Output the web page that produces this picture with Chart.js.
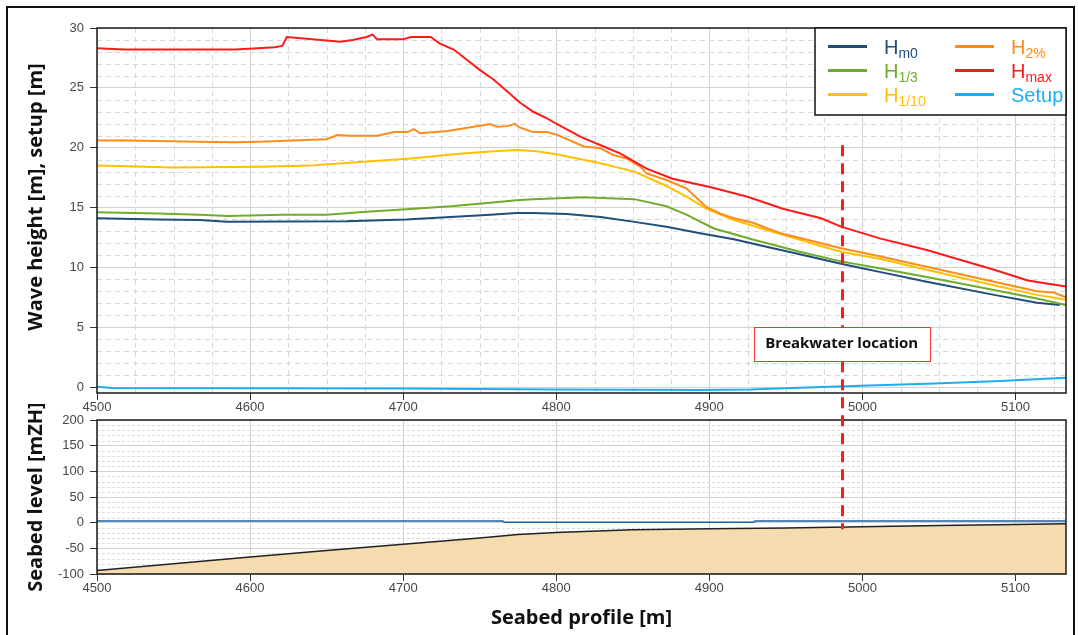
<!DOCTYPE html>
<html lang="en">
<head>
<meta charset="UTF-8">
<title>Wave height and seabed profile</title>
<script src="https://cdn.jsdelivr.net/npm/chart.js@4"></script>
<style>
  body { margin: 0; background: #fff; }
  #wrap { position: relative; width: 1078px; height: 635px; overflow: hidden; background: #fff; }
  #frame { position: absolute; left: 6px; top: 6px; width: 1065px; height: 640px; border: 2px solid #111; }
  #waveChart { position: absolute; left: 0; top: 0; }
  #bedChart { position: absolute; left: 0; top: 404px; }
</style>
</head>
<body>
<div id="wrap">
  <div id="frame"></div>
  <canvas id="waveChart" width="1078" height="416"></canvas>
  <canvas id="bedChart" width="1078" height="231"></canvas>
</div>
<script>
// ---- values ----
const xTicks = [4500, 4600, 4700, 4800, 4900, 5000, 5100];
const waveTicks = [0, 5, 10, 15, 20, 25, 30];
const bedTicks = [-100, -50, 0, 50, 100, 150, 200];

const seriesNames = [['H', 'm0'], ['H', '1/3'], ['H', '1/10'], ['H', '2%'], ['H', 'max'], ['Setup', '']];
const seriesColors = ['#1f4e79', '#6fac2b', '#ffc000', '#ff8c1a', '#ff1a1a', '#1eaef0'];

const hm0X = [4500, 4540, 4567, 4585, 4663, 4702, 4731, 4757, 4774, 4785, 4807, 4829, 4851, 4872, 4894, 4916, 4938, 4959, 4986, 4999, 5012, 5042, 5086, 5114, 5129];
const hm0Y = [14.1, 14.0, 13.95, 13.8, 13.85, 14.0, 14.2, 14.4, 14.55, 14.55, 14.45, 14.2, 13.8, 13.4, 12.85, 12.35, 11.7, 11.1, 10.3, 9.95, 9.6, 8.8, 7.7, 7.05, 6.85];

const h13X = [4500, 4540, 4567, 4585, 4622, 4650, 4676, 4702, 4731, 4757, 4774, 4785, 4818, 4851, 4872, 4885, 4903, 4929, 4959, 4986, 5012, 5042, 5086, 5114, 5133];
const h13Y = [14.6, 14.5, 14.4, 14.3, 14.4, 14.4, 14.65, 14.85, 15.1, 15.4, 15.6, 15.7, 15.85, 15.7, 15.1, 14.4, 13.25, 12.3, 11.3, 10.5, 9.9, 9.2, 8.1, 7.4, 6.85];

const h110X = [4500, 4520, 4550, 4606, 4639, 4672, 4705, 4737, 4759, 4774, 4787, 4800, 4829, 4851, 4872, 4885, 4898, 4916, 4938, 4959, 4986, 5012, 5042, 5086, 5114, 5133];
const h110Y = [18.5, 18.45, 18.35, 18.4, 18.5, 18.8, 19.1, 19.5, 19.7, 19.8, 19.7, 19.45, 18.7, 18.0, 16.8, 15.9, 14.9, 13.95, 13.1, 12.3, 11.3, 10.7, 9.8, 8.5, 7.7, 7.3];

const h2X = [4500, 4520, 4567, 4589, 4606, 4650, 4657, 4665, 4683, 4694, 4703, 4707, 4711, 4729, 4746, 4757, 4761, 4768, 4773, 4776, 4785, 4794, 4801, 4818, 4829, 4837, 4846, 4855, 4859, 4872, 4885, 4898, 4907, 4916, 4929, 4938, 4948, 4964, 4986, 5012, 5042, 5086, 5114, 5125, 5133];
const h2Y = [20.6, 20.6, 20.5, 20.45, 20.5, 20.7, 21.05, 21.0, 21.0, 21.3, 21.3, 21.55, 21.2, 21.4, 21.75, 21.97, 21.75, 21.8, 22.0, 21.7, 21.3, 21.3, 21.05, 20.1, 19.95, 19.4, 19.1, 18.4, 17.85, 17.3, 16.6, 15.05, 14.5, 14.1, 13.7, 13.25, 12.8, 12.3, 11.6, 10.9, 10.05, 8.8, 8.0, 7.9, 7.5];

const hmaxX = [4500, 4518, 4590, 4605, 4616, 4621, 4624, 4650, 4659, 4667, 4676, 4680, 4683, 4700, 4705, 4718, 4724, 4733, 4742, 4750, 4759, 4768, 4776, 4785, 4794, 4800, 4816, 4829, 4842, 4859, 4876, 4901, 4925, 4948, 4973, 4986, 5012, 5042, 5086, 5108, 5133];
const hmaxY = [28.3, 28.2, 28.2, 28.3, 28.4, 28.5, 29.25, 28.95, 28.85, 29.0, 29.25, 29.45, 29.05, 29.05, 29.25, 29.25, 28.7, 28.2, 27.3, 26.5, 25.7, 24.7, 23.8, 23.0, 22.45, 22.0, 20.9, 20.2, 19.5, 18.25, 17.4, 16.7, 15.9, 14.9, 14.1, 13.4, 12.4, 11.45, 9.8, 8.9, 8.4];

const setupX = [4500, 4510, 4600, 4700, 4800, 4894, 4927, 4973, 4999, 5047, 5090, 5133];
const setupY = [0.02, -0.08, -0.1, -0.12, -0.2, -0.25, -0.2, 0.0, 0.1, 0.3, 0.5, 0.78];

const seabedX = [4500, 4550, 4600, 4650, 4700, 4750, 4775, 4800, 4850, 4900, 4950, 5000, 5050, 5100, 5133];
const seabedY = [-93, -80, -67, -54, -42, -30, -23, -19, -14, -12, -10.5, -8, -5.5, -3.5, -2];

const waterX = [4500, 4765, 4766, 4929, 4930, 5133];
const waterY = [3.4, 3.4, 1.0, 1.0, 3.2, 3.2];

const breakwaterAt = 4987;
const waveAxisTitle = 'Wave height [m], setup [m]';

// ---- helpers ----
const pts = (xs, ys) => xs.map((x, i) => ({ x: x, y: ys[i] }));
const fixedTicks = list => scale => { scale.ticks = list.map(v => ({ value: v })); };
const tickFont = { family: "'Liberation Sans', Arial, sans-serif", size: 13 };
const titleFont = { family: "'Open Sans', sans-serif", size: 20, weight: 'bold' };
let dashTopLength = 0;

const minorGrid = {
  id: 'minorGrid',
  beforeDatasetsDraw(chart, args, opts) {
    const { ctx, chartArea: a, scales: { x, y } } = chart;
    ctx.save();
    ctx.strokeStyle = opts.color;
    ctx.lineWidth = 1;
    ctx.setLineDash(opts.dash);
    if (opts.xStep) {
      for (let v = x.min; v <= x.max; v += opts.xStep) {
        if (v % opts.xMajor === 0) continue;
        const px = Math.round(x.getPixelForValue(v)) + 0.5;
        ctx.beginPath(); ctx.moveTo(px, a.top); ctx.lineTo(px, a.bottom); ctx.stroke();
      }
    }
    for (let v = Math.ceil(y.min / opts.yStep) * opts.yStep; v <= y.max; v += opts.yStep) {
      if (v % opts.yMajor === 0) continue;
      const py = Math.round(y.getPixelForValue(v)) + 0.5;
      ctx.beginPath(); ctx.moveTo(a.left, py); ctx.lineTo(a.right, py); ctx.stroke();
    }
    ctx.restore();
  }
};

const plotFrame = {
  id: 'plotFrame',
  afterDatasetsDraw(chart) {
    const { ctx, chartArea: a } = chart;
    ctx.save();
    ctx.setLineDash([]);
    ctx.lineWidth = 1.5;
    ctx.strokeStyle = '#1a1a1a';
    ctx.strokeRect(a.left, a.top, a.width, a.height);
    ctx.restore();
  }
};

const waveLegend = {
  id: 'waveLegend',
  afterDatasetsDraw(chart) {
    const { ctx, chartArea: a } = chart;
    const left = a.right - 251, top = a.top;
    ctx.save();
    ctx.fillStyle = '#fff';
    ctx.fillRect(left, top, 251, 87);
    ctx.lineWidth = 1.5;
    ctx.strokeStyle = '#111';
    ctx.strokeRect(left, top, 251, 87);
    seriesNames.forEach((name, i) => {
      const col = Math.floor(i / 3), row = i % 3;
      const lx = left + 13 + col * 127;
      const ly = top + 18.5 + row * 24;
      ctx.strokeStyle = seriesColors[i];
      ctx.lineWidth = 3;
      ctx.beginPath(); ctx.moveTo(lx, ly); ctx.lineTo(lx + 39, ly); ctx.stroke();
      ctx.fillStyle = seriesColors[i];
      ctx.textAlign = 'left';
      ctx.textBaseline = 'alphabetic';
      ctx.font = "20px 'Liberation Sans', Arial, sans-serif";
      const tx = lx + 56;
      ctx.fillText(name[0], tx, ly + 7.5);
      if (name[1]) {
        const w = ctx.measureText(name[0]).width;
        ctx.font = "14px 'Liberation Sans', Arial, sans-serif";
        ctx.fillText(name[1], tx + w, ly + 11);
      }
    });
    ctx.restore();
  }
};

const breakwaterUpper = {
  id: 'breakwaterUpper',
  afterDraw(chart) {
    const { ctx, scales: { x, y } } = chart;
    const bx = x.getPixelForValue(breakwaterAt);
    const y0 = y.getPixelForValue(20.2);
    dashTopLength = chart.height - y0;
    ctx.save();
    ctx.strokeStyle = '#ff1a1a';
    ctx.lineWidth = 3;
    ctx.setLineDash([11, 7]);
    ctx.beginPath(); ctx.moveTo(bx, y0); ctx.lineTo(bx, chart.height); ctx.stroke();
    // label box
    const l = x.getPixelForValue(4929), r = x.getPixelForValue(5044);
    const t = y.getPixelForValue(5.0), b = y.getPixelForValue(2.2);
    ctx.setLineDash([]);
    ctx.fillStyle = '#fff';
    ctx.fillRect(l, t, r - l, b - t);
    ctx.lineWidth = 1;
    ctx.strokeStyle = '#ff3030';
    ctx.strokeRect(Math.round(l) + 0.5, Math.round(t) + 0.5, Math.round(r - l), Math.round(b - t));
    ctx.fillStyle = '#111';
    ctx.font = "bold 15px 'Open Sans', sans-serif";
    ctx.textAlign = 'center';
    ctx.textBaseline = 'middle';
    ctx.fillText('Breakwater location', (l + r) / 2, (t + b) / 2);
    // y axis title of the upper panel
    ctx.save();
    ctx.translate(36, 197);
    ctx.rotate(-Math.PI / 2);
    ctx.font = "bold 20px 'Open Sans', sans-serif";
    ctx.fillText(waveAxisTitle, 0, 0);
    ctx.restore();
    ctx.restore();
  }
};

const breakwaterLower = {
  id: 'breakwaterLower',
  afterDraw(chart) {
    const { ctx, scales: { x, y } } = chart;
    const bx = x.getPixelForValue(breakwaterAt);
    ctx.save();
    ctx.strokeStyle = '#ff1a1a';
    ctx.lineWidth = 3;
    ctx.setLineDash([11, 7]);
    ctx.lineDashOffset = dashTopLength;
    ctx.beginPath(); ctx.moveTo(bx, 12); ctx.lineTo(bx, y.getPixelForValue(-13)); ctx.stroke();
    ctx.restore();
  }
};

function xAxis(height) {
  return {
    type: 'linear', min: 4500, max: 5133,
    afterBuildTicks: fixedTicks(xTicks),
    afterFit: s => { s.height = height; },
    grid: { color: '#d2d2d2', lineWidth: 1, tickColor: '#333', tickLength: 7 },
    border: { display: false },
    ticks: { color: '#474747', font: tickFont, padding: 0, maxRotation: 0, callback: v => String(v) }
  };
}

function yAxis(min, max, list) {
  return {
    type: 'linear', min: min, max: max,
    afterBuildTicks: fixedTicks(list),
    afterFit: s => { s.width = 97; },
    grid: { color: '#d2d2d2', lineWidth: 1, tickColor: '#333', tickLength: 7 },
    border: { display: false },
    ticks: { color: '#474747', font: tickFont, padding: 6, callback: v => String(v) }
  };
}

const common = {
  animation: false,
  responsive: false,
  devicePixelRatio: 1,
  events: [],
  elements: { point: { radius: 0 }, line: { borderWidth: 2, tension: 0 } }
};

const waveSets = [
  [hmaxX, hmaxY, 4], [h2X, h2Y, 3], [h110X, h110Y, 2], [h13X, h13Y, 1], [hm0X, hm0Y, 0], [setupX, setupY, 5]
].map(([xs, ys, k]) => ({
  label: seriesNames[k].join(''),
  data: pts(xs, ys),
  borderColor: seriesColors[k],
  fill: false
}));

new Chart(document.getElementById('waveChart'), {
  type: 'line',
  data: { datasets: waveSets },
  options: Object.assign({}, common, {
    layout: { padding: { left: 0, top: 28, right: 12, bottom: 0 } },
    scales: { x: xAxis(23), y: yAxis(-0.5, 30, waveTicks) },
    plugins: {
      legend: { display: false },
      tooltip: { enabled: false },
      minorGrid: { color: '#d8d8d8', dash: [5, 4], xStep: 25, xMajor: 100, yStep: 1, yMajor: 5 }
    }
  }),
  plugins: [minorGrid, plotFrame, waveLegend, breakwaterUpper]
});

const bedX = xAxis(61);
bedX.title = { display: true, text: 'Seabed profile [m]', font: titleFont, color: '#111', padding: { top: 0, bottom: 5 } };
const bedY = yAxis(-100, 200, bedTicks);
bedY.title = { display: true, text: 'Seabed level [mZH]', font: titleFont, color: '#111', padding: { top: 24, bottom: 0 } };

new Chart(document.getElementById('bedChart'), {
  type: 'line',
  data: {
    datasets: [
      { label: 'Water level', data: pts(waterX, waterY), borderColor: '#1f5f9f', borderWidth: 1.5, fill: false },
      { label: 'Seabed', data: pts(seabedX, seabedY), borderColor: '#222', borderWidth: 1.5, backgroundColor: '#f5dcae', fill: 'start' }
    ]
  },
  options: Object.assign({}, common, {
    layout: { padding: { left: 0, top: 16, right: 12, bottom: 0 } },
    scales: { x: bedX, y: bedY },
    plugins: {
      legend: { display: false },
      tooltip: { enabled: false },
      minorGrid: { color: '#dcdcdc', dash: [3, 2], xStep: 0, xMajor: 100, yStep: 10, yMajor: 50 }
    }
  }),
  plugins: [minorGrid, plotFrame, breakwaterLower]
});
</script>
</body>
</html>
